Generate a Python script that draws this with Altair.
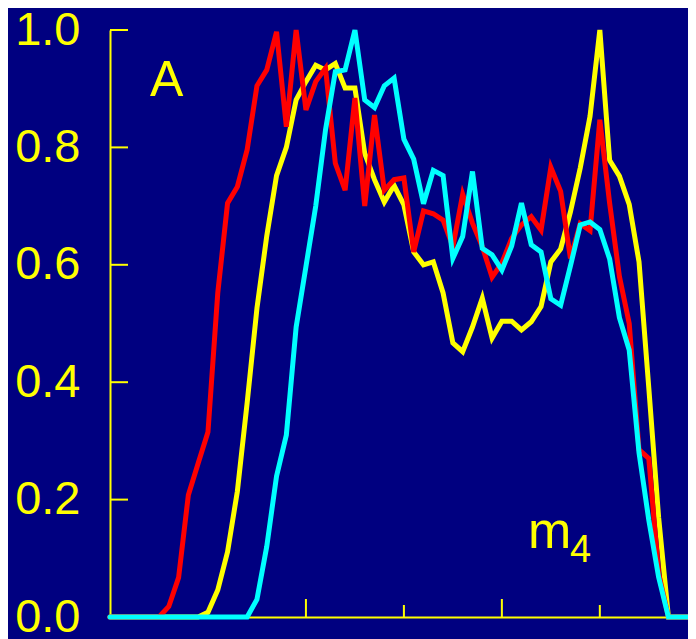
import altair as alt
import pandas as pd

# x grid: samples every 0.1 units
x_vals = [round(i * 0.1, 1) for i in range(61)]

red = [0, 0, 0, 0, 0, 0, 0.018, 0.067, 0.208, 0.262,
       0.315, 0.552, 0.705, 0.733, 0.796, 0.905, 0.932, 0.997, 0.835, 1.0,
       0.864, 0.912, 0.935, 0.773, 0.727, 0.884, 0.70, 0.855, 0.727, 0.745,
       0.748, 0.622, 0.692, 0.687, 0.676, 0.631, 0.72, 0.671, 0.631, 0.579,
       0.603, 0.645, 0.668, 0.682, 0.659, 0.766, 0.725, 0.611, 0.67, 0.658,
       0.847, 0.705, 0.58, 0.50, 0.285, 0.27, 0.075, 0, 0, 0, 0]

yellow = [0, 0, 0, 0, 0, 0, 0, 0, 0, 0,
          0.008, 0.046, 0.111, 0.214, 0.365, 0.526, 0.649, 0.752, 0.80, 0.881,
          0.912, 0.94, 0.932, 0.943, 0.901, 0.901, 0.79, 0.745, 0.707, 0.735,
          0.702, 0.622, 0.60, 0.605, 0.552, 0.467, 0.452, 0.494, 0.543, 0.475,
          0.504, 0.504, 0.489, 0.503, 0.529, 0.605, 0.627, 0.69, 0.765, 0.853,
          1.0, 0.778, 0.751, 0.703, 0.605, 0.39, 0.17, 0, 0, 0, 0]

cyan = [0, 0, 0, 0, 0, 0, 0, 0, 0, 0,
        0, 0, 0, 0, 0, 0.03, 0.12, 0.24, 0.31, 0.494,
        0.597, 0.70, 0.83, 0.929, 0.932, 1.0, 0.881, 0.868, 0.905, 0.918,
        0.814, 0.78, 0.704, 0.761, 0.752, 0.611, 0.648, 0.759, 0.628, 0.617,
        0.591, 0.632, 0.705, 0.634, 0.622, 0.542, 0.531, 0.598, 0.668, 0.673,
        0.66, 0.61, 0.51, 0.455, 0.28, 0.165, 0.068, 0, 0, 0, 0]

y_tick_values = [0.0, 0.2, 0.4, 0.6, 0.8, 1.0]
x_ticks_long = [2, 4]
x_ticks_short = [3, 5]

YEL = "#FFFF00"
FONT = "Liberation Sans"

xs = alt.Scale(domain=[0, 5.9], nice=False, zero=False)
ys = alt.Scale(domain=[0, 1], nice=False)

x_axis = alt.Axis(domain=True, domainColor=YEL, domainWidth=2, ticks=False,
                  labels=False, grid=False, title=None)
y_axis = alt.Axis(values=y_tick_values, format=".1f", domain=True, domainColor=YEL,
                  domainWidth=2, ticks=False, grid=False, title=None,
                  labelFont=FONT, labelFontSize=47, labelColor=YEL, labelPadding=30)

X = alt.X("x:Q", scale=xs, axis=x_axis)
Y = alt.Y("v:Q", scale=ys, axis=y_axis)


def line(vals, color):
    df = pd.DataFrame({"x": x_vals, "v": vals})
    return alt.Chart(df).mark_line(color=color, strokeWidth=5, clip=False,
                                   strokeJoin="miter", strokeCap="round").encode(x=X, y=Y)


ytick_df = pd.DataFrame({"v": y_tick_values[1:]})
yticks = alt.Chart(ytick_df).mark_rule(color=YEL, strokeWidth=2).encode(
    y=Y, x=alt.value(0), x2=alt.value(18))

xl_df = pd.DataFrame({"x": x_ticks_long})
xs_df = pd.DataFrame({"x": x_ticks_short})
xticks_long = alt.Chart(xl_df).mark_rule(color=YEL, strokeWidth=2).encode(
    x=X, y=alt.value(587), y2=alt.value(569))
xticks_short = alt.Chart(xs_df).mark_rule(color=YEL, strokeWidth=2).encode(
    x=X, y=alt.value(587), y2=alt.value(575))

lab_a = alt.Chart(pd.DataFrame({"t": ["A"]})).mark_text(
    font=FONT, fontSize=50, color=YEL, align="left", baseline="alphabetic").encode(
    text="t:N", x=alt.value(40), y=alt.value(66))
lab_m = alt.Chart(pd.DataFrame({"t": ["m"]})).mark_text(
    font=FONT, fontSize=52, color=YEL, align="left", baseline="alphabetic").encode(
    text="t:N", x=alt.value(418), y=alt.value(518))
lab_4 = alt.Chart(pd.DataFrame({"t": ["4"]})).mark_text(
    font=FONT, fontSize=38, color=YEL, align="left", baseline="alphabetic").encode(
    text="t:N", x=alt.value(460), y=alt.value(532))

chart = alt.layer(
    yticks, xticks_long, xticks_short,
    line(yellow, "#FFFF00"),
    line(red, "#FF0000"),
    line(cyan, "#00FFFF"),
    lab_a, lab_m, lab_4,
).properties(
    width=578, height=587,
    padding={"left": 102, "top": 22, "right": 0, "bottom": 22},
    autosize=alt.AutoSizeParams(type="none"),
    background="#000080",
).configure_view(stroke=None)

chart.save("out.html", embed_options={"renderer": "svg", "actions": False})
